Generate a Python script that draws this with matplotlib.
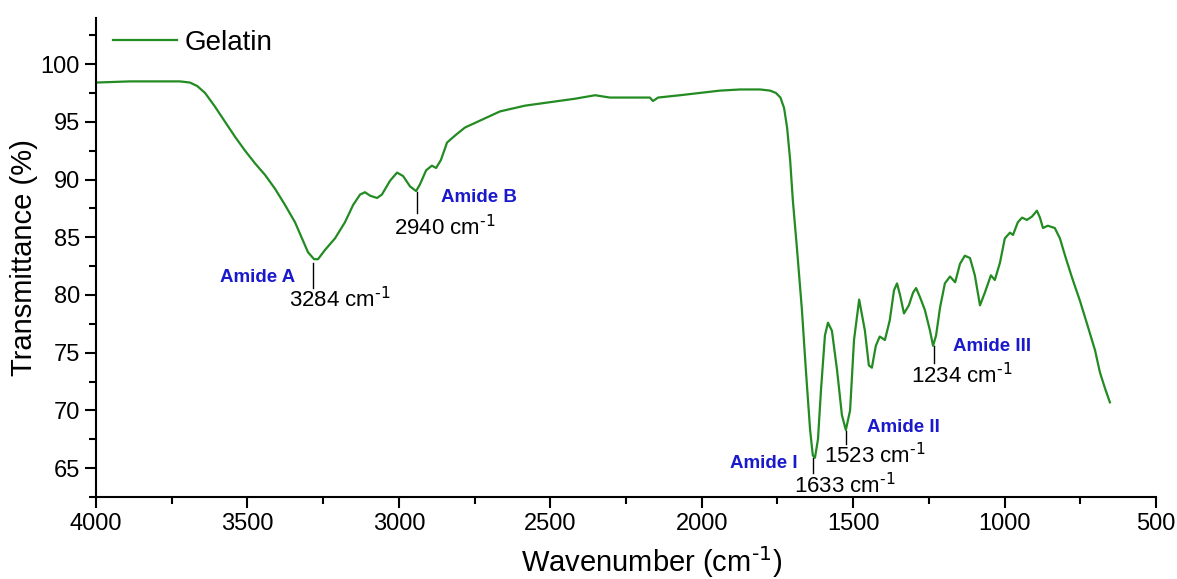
import matplotlib
matplotlib.use("Agg")
from matplotlib import pyplot as plt
from matplotlib.ticker import MultipleLocator

matplotlib.rc("font", family=["Liberation Sans", "DejaVu Sans"], size=16)
matplotlib.rc("mathtext", default="regular")

# 光谱数据
wavenumber = [4000, 3888, 3789, 3723, 3690, 3666, 3640, 3607, 3574, 3541, 3508, 3475,
              3442, 3409, 3376, 3343, 3320, 3300, 3280, 3267, 3244, 3211, 3178, 3151,
              3128, 3112, 3095, 3072, 3056, 3029, 3006, 2986, 2963, 2943, 2930, 2910,
              2891, 2877, 2861, 2841, 2815, 2782, 2732, 2666, 2583, 2501, 2418, 2352,
              2303, 2237, 2171, 2161, 2144, 2072, 2006, 1940, 1873, 1807, 1774, 1755,
              1740, 1728, 1718, 1708, 1699, 1685, 1669, 1656, 1642, 1633, 1626, 1616, 1606,
              1593, 1583, 1570, 1553, 1537, 1524, 1510, 1497, 1480, 1461, 1448,
              1438, 1425, 1412, 1395, 1379, 1365, 1355, 1345, 1332, 1316, 1302, 1292,
              1279, 1263, 1246, 1236, 1226, 1213, 1197, 1180, 1163, 1147, 1131, 1114,
              1098, 1081, 1065, 1045, 1032, 1015, 999, 982, 972, 956, 942, 926, 909,
              893, 883, 873, 857, 834, 817, 800, 777, 751, 724, 701, 685, 668, 652]
transmittance = [98.4, 98.5, 98.5, 98.5, 98.4, 98.1, 97.5, 96.3, 95.0, 93.7, 92.5, 91.4,
                 90.4, 89.2, 87.8, 86.3, 84.9, 83.7, 83.1, 83.1, 83.9, 84.9, 86.3, 87.8,
                 88.7, 88.9, 88.6, 88.4, 88.7, 89.9, 90.6, 90.3, 89.4, 89.0, 89.6, 90.8,
                 91.2, 91.0, 91.7, 93.2, 93.8, 94.5, 95.1, 95.9, 96.4, 96.7, 97.0, 97.3,
                 97.1, 97.1, 97.1, 96.8, 97.1, 97.3, 97.5, 97.7, 97.8, 97.8, 97.7, 97.5,
                 97.1, 96.2, 94.5, 91.7, 88.2, 83.9, 78.7, 73.5, 68.3, 66.1, 65.9, 67.5, 71.8,
                 76.5, 77.6, 76.9, 73.5, 69.6, 68.3, 70.0, 76.1, 79.6, 76.9, 73.9,
                 73.7, 75.6, 76.4, 76.1, 77.8, 80.4, 81.0, 80.0, 78.4, 79.1, 80.2, 80.6,
                 79.8, 78.7, 76.9, 75.6, 76.5, 78.9, 81.0, 81.6, 81.1, 82.7, 83.4, 83.2,
                 81.7, 79.1, 80.2, 81.7, 81.3, 82.8, 84.9, 85.4, 85.2, 86.3, 86.7, 86.5, 86.8,
                 87.3, 86.7, 85.8, 86.0, 85.8, 84.9, 83.4, 81.5, 79.5, 77.2, 75.2, 73.3, 71.9, 70.7]

# 峰的标注
peak_wn = [3284, 2940, 1633, 1523, 1234]
peak_names = ["Amide A", "Amide B", "Amide I", "Amide II", "Amide III"]
peak_top = [82.8, 88.9, 65.9, 68.2, 75.6]
peak_bottom = [80.6, 87.1, 64.6, 67.1, 74.1]
num_pos = [(3195, 79.6), (2848, 85.8), (1527, 63.5), (1428, 66.1), (1140, 73.0)]
name_pos = [(3465, 81.5), (2735, 88.4), (1794, 65.4), (1335, 68.5), (1041, 75.5)]

fig = plt.figure(figsize=(11.77, 5.79), dpi=100)
ax = fig.add_axes([0.0816, 0.1416, 0.9005, 0.8275])

ax.plot(wavenumber, transmittance, color="#228B22", lw=1.6, label="Gelatin")

for i in range(len(peak_wn)):
    ax.plot([peak_wn[i], peak_wn[i]], [peak_top[i], peak_bottom[i]], color="black", lw=1)
    ax.text(num_pos[i][0], num_pos[i][1], "%d cm$^{\\text{-1}}$" % peak_wn[i],
            ha="center", va="center", fontsize=16)
    ax.text(name_pos[i][0], name_pos[i][1], peak_names[i], color="#1a1acc",
            fontweight="bold", ha="center", va="center", fontsize=13.5)

ax.set_xlim(4000, 500)
ax.set_ylim(62.5, 104)
ax.xaxis.set_major_locator(MultipleLocator(500))
ax.xaxis.set_minor_locator(MultipleLocator(250))
ax.yaxis.set_minor_locator(MultipleLocator(2.5))
ax.set_yticks([65, 70, 75, 80, 85, 90, 95, 100])

ax.spines["top"].set_visible(False)
ax.spines["right"].set_visible(False)
ax.spines["left"].set_linewidth(1.5)
ax.spines["bottom"].set_linewidth(1.5)
ax.tick_params(which="major", direction="out", length=8, width=1.5, labelsize=17)
ax.tick_params(which="minor", direction="out", length=5, width=1.5)

ax.set_xlabel("Wavenumber (cm$^{\\text{-1}}$)", fontsize=21)
ax.set_ylabel("Transmittance (%)", fontsize=21)
ax.xaxis.set_label_coords(0.5245, -0.098)
ax.yaxis.set_label_coords(-0.055, 0.5)

ax.legend(loc="upper left", frameon=False, fontsize=20, handlelength=2.3,
          handletextpad=0.3, borderaxespad=0.2, bbox_to_anchor=(0.0, 1.01))

plt.savefig("out.png", dpi=100)
